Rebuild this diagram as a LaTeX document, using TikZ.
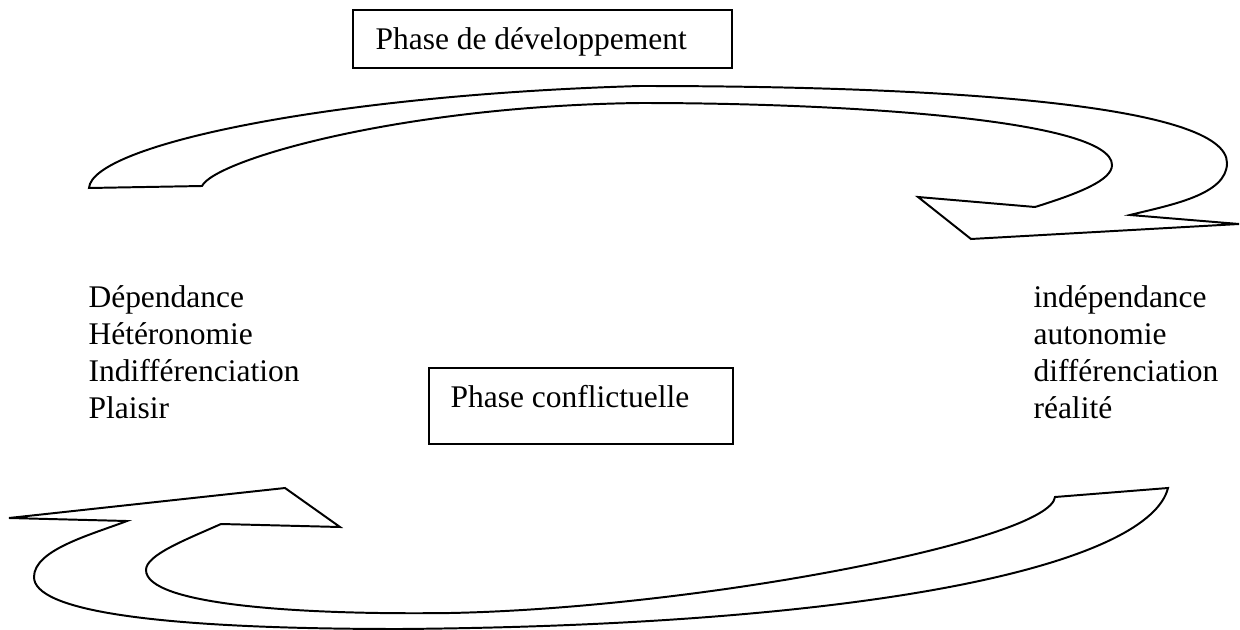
\documentclass[tikz,border=0pt]{standalone}
\usepackage{fontspec}
\setmainfont{Liberation Serif}
\usetikzlibrary{positioning}

\begin{document}
\begin{tikzpicture}[x=0.381pt, y=-0.381pt,
etiquette/.style={anchor=base west, inner sep=0pt, font=\fontsize{12}{14}\selectfont},
cadre/.style={draw, line width=0.75pt},
cadrefin/.style={draw, line width=0.45pt},
fleche/.style={draw, line width=0.75pt, line join=miter}
]
\useasboundingbox (0,0) rectangle (1240,630);

% the two phase boxes
\draw[cadrefin] (353,10) rectangle (732,68);
\node[etiquette] (dev) at (375,50) {Phase de développement};
\draw[cadre] (429,368) rectangle (733,444);
\node[etiquette] (conflit) at (450,407) {Phase conflictuelle};

% left column
\node[etiquette] (dep) at (88,307) {Dépendance};
\node[etiquette] (het) at (88,344) {Hétéronomie};
\node[etiquette] (indif) at (88,381) {Indifférenciation};
\node[etiquette] (plaisir) at (88,418) {Plaisir};

% right column
\node[etiquette] (indep) at (1033,307) {indépendance};
\node[etiquette] (auto) at (1033,344) {autonomie};
\node[etiquette] (diff) at (1033,381) {différenciation};
\node[etiquette] (reel) at (1033,418) {réalité};

% upper curved arrow, left to right
\draw[fleche] (89,188) .. controls (92,145) and (330,95) .. (640,86)
  .. controls (950,86) and (1227,105) .. (1227,163)
  .. controls (1227,195) and (1170,205) .. (1130,215)
  -- (1239,224) -- (971,239) -- (918,197) -- (1035,207)
  .. controls (1080,193) and (1112,180) .. (1112,165)
  .. controls (1112,120) and (850,103) .. (640,103)
  .. controls (400,106) and (215,160) .. (202,186)
  -- cycle;

% lower curved arrow, right to left
\draw[fleche] (1168,488) .. controls (1150,560) and (900,625) .. (400,629)
  .. controls (150,629) and (34,610) .. (34,577)
  .. controls (34,550) and (90,535) .. (127,521)
  -- (9,518) -- (285,488) -- (340,527) -- (221,524)
  .. controls (185,540) and (146,555) .. (146,570)
  .. controls (146,605) and (300,615) .. (450,613)
  .. controls (700,608) and (1050,540) .. (1055,497)
  -- cycle;
\end{tikzpicture}
\end{document}
